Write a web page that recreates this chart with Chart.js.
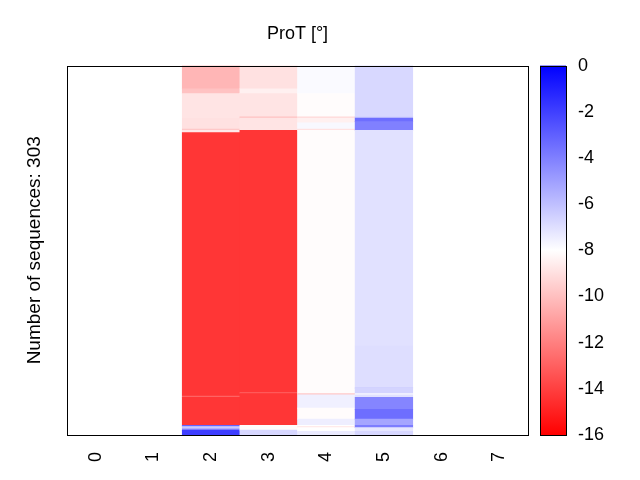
<!DOCTYPE html>
<html>
<head>
<meta charset="utf-8">
<script src="https://cdn.jsdelivr.net/npm/chart.js@4"></script>
<style>
  html, body { margin: 0; padding: 0; background: #fff; }
  #wrap { width: 640px; height: 480px; }
</style>
</head>
<body>
<div id="wrap"><canvas id="heat"></canvas></div>
<script>
// ---- data ----
const columns = ['0', '1', '2', '3', '4', '5', '6', '7'];
const nSeq = 303;
const cbTicks = [0, -2, -4, -6, -8, -10, -12, -14, -16];

// row boundaries (sequence index) and values per column, top to bottom
const col2Edges = [0, 19, 23, 43, 52, 53, 55, 271, 272, 295, 296, 298, 299, 303];
const col2Values = [-10.3, -9.9, -8.85, -8.94, -9.73, -8.72, -14.3, -12.9, -14.3, -3.1, -6.3, -4.7, -1.9];

const col3Edges = [0, 19, 23, 42, 43, 53, 268, 269, 295, 299, 303];
const col3Values = [-8.94, -8.47, -8.85, -9.9, -8.85, -14.3, -13.2, -14.3, -8.1, -6.75];

const col4Edges = [0, 23, 42, 43, 47, 52, 53, 269, 270, 281, 290, 295, 296, 297, 300, 303];
const col4Values = [-7.84, -8.1, -9.25, -8.47, -7.78, -8.94, -8.1, -9.73, -7.53, -8.1, -7.47, -8.0, -8.8, -8.0, -7.36];

const col5Edges = [0, 42, 43, 46, 53, 230, 264, 265, 269, 270, 272, 282, 290, 295, 297, 300, 303];
const col5Values = [-6.78, -6.5, -3.45, -4.0, -7.06, -6.97, -6.6, -6.65, -7.78, -7.06, -4.16, -3.45, -5.18, -3.92, -7.22, -6.75];

const vmin = -16, vmax = 0;

// bwr-like map: vmin red, middle white, vmax blue
function valColor(v) {
  let t = (v - vmin) / (vmax - vmin);
  t = Math.max(0, Math.min(1, t));
  let r, g, b;
  if (t < 0.5) { r = 255; g = b = Math.round(510 * t); }
  else { b = 255; r = g = Math.round(510 * (1 - t)); }
  return `rgb(${r},${g},${b})`;
}

const segments = [];
function addColumn(label, edges, values) {
  values.forEach((v, i) => {
    segments.push({ x: label, y: [edges[i], edges[i + 1]], v: v });
  });
}
addColumn('2', col2Edges, col2Values);
addColumn('3', col3Edges, col3Values);
addColumn('4', col4Edges, col4Values);
addColumn('5', col5Edges, col5Values);

Chart.defaults.font.family = "'Liberation Sans', Arial, sans-serif";
Chart.defaults.font.size = 18;
Chart.defaults.color = '#000';

// frame round the plot + colorbar
const framePlugin = {
  id: 'frame',
  afterDraw(chart) {
    const { ctx, chartArea: a } = chart;
    const cb = chart.scales.cb;
    ctx.save();
    ctx.strokeStyle = '#000';
    ctx.lineWidth = 1;
    ctx.strokeRect(Math.round(a.left) + 0.5, Math.round(a.top) + 0.5,
      Math.round(a.right - a.left), Math.round(a.bottom - a.top));

    const x0 = Math.round(a.right) + 12;
    const w = 26;
    const yTop = cb.getPixelForValue(vmax);
    const yBot = cb.getPixelForValue(vmin);
    const grad = ctx.createLinearGradient(0, yTop, 0, yBot);
    grad.addColorStop(0, valColor(vmax));
    grad.addColorStop(0.5, valColor((vmin + vmax) / 2));
    grad.addColorStop(1, valColor(vmin));
    ctx.fillStyle = grad;
    ctx.fillRect(x0, yTop, w, yBot - yTop);
    ctx.strokeRect(x0 + 0.5, Math.round(yTop) + 0.5, w, Math.round(yBot - yTop));
    ctx.restore();
  }
};

new Chart(document.getElementById('heat'), {
  type: 'bar',
  data: {
    labels: columns,
    datasets: [{
      data: segments,
      backgroundColor: c => c.raw ? valColor(c.raw.v) : '#fff',
      borderWidth: 0,
      categoryPercentage: 1,
      barPercentage: 1
    }]
  },
  options: {
    responsive: true,
    maintainAspectRatio: false,
    animation: false,
    layout: { padding: { left: 14, right: 0, top: 0, bottom: 0 } },
    plugins: {
      legend: { display: false },
      tooltip: { enabled: false },
      title: {
        display: true,
        fullSize: false,
        text: 'ProT [°]',
        font: { size: 18, weight: 'normal' },
        padding: { top: 23, bottom: 21 }
      }
    },
    scales: {
      x: {
        type: 'category',
        grid: { display: false, drawTicks: false },
        border: { display: false },
        ticks: { minRotation: 90, maxRotation: 90, padding: 17 },
        afterFit: s => { s.height = 45; }
      },
      y: {
        type: 'linear',
        min: 0,
        max: nSeq,
        reverse: true,
        grid: { display: false, drawTicks: false },
        border: { display: false },
        ticks: { display: false },
        title: {
          display: true,
          text: 'Number of sequences: ' + nSeq,
          font: { size: 19 },
          padding: { top: 9, bottom: 22 }
        },
        afterFit: s => { s.width = 53; }
      },
      cb: {
        type: 'linear',
        position: 'right',
        min: vmin,
        max: vmax,
        afterBuildTicks: s => { s.ticks = cbTicks.map(v => ({ value: v })); },
        grid: { display: false, drawTicks: false },
        border: { display: false },
        ticks: { padding: 50 },
        afterFit: s => { s.width = 112; s.paddingTop = 10; s.paddingBottom = 10; }
      }
    }
  },
  plugins: [framePlugin]
});
</script>
</body>
</html>
